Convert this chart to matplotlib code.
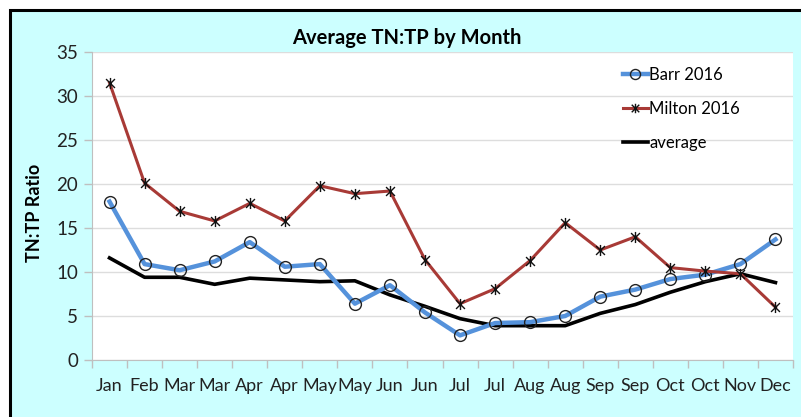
import matplotlib
matplotlib.use("Agg")
import matplotlib.pyplot as plt
from matplotlib.path import Path
from matplotlib.patches import Rectangle
import numpy as np

months = ["Jan", "Feb", "Mar", "Mar", "Apr", "Apr", "May", "May", "Jun", "Jun",
          "Jul", "Jul", "Aug", "Aug", "Sep", "Sep", "Oct", "Oct", "Nov", "Dec"]
barr_2016 = [18.0, 10.9, 10.2, 11.2, 13.4, 10.6, 10.9, 6.4, 8.5, 5.4,
             2.8, 4.2, 4.3, 5.0, 7.2, 8.0, 9.2, 9.7, 10.9, 13.7]
milton_2016 = [31.5, 20.1, 16.9, 15.8, 17.8, 15.8, 19.8, 18.9, 19.2, 11.4,
               6.4, 8.1, 11.3, 15.6, 12.5, 14.0, 10.5, 10.1, 9.8, 6.0]
average = [11.6, 9.4, 9.4, 8.6, 9.3, 9.1, 8.9, 9.0, 7.4, 6.1,
           4.7, 3.9, 3.9, 3.9, 5.3, 6.3, 7.7, 8.9, 9.8, 8.8]
yticks = [0, 5, 10, 15, 20, 25, 30, 35]

W, H = 801, 417
plt.rcParams['font.family'] = ['Lato', 'DejaVu Sans']
fig = plt.figure(figsize=(W / 100, H / 100), dpi=100, facecolor="white")

bg = Rectangle((10 / W, -0.05), 1.1, (H - 10) / H + 0.05, transform=fig.transFigure,
               facecolor="#CCFFFF", edgecolor="black", linewidth=2.2, zorder=-10)
fig.patches.append(bg)

ax = fig.add_axes([92 / W, (H - 360) / H, (793 - 92) / W, (360 - 52) / H], zorder=1)
ax.set_facecolor("white")

x = np.arange(len(months))

star = Path([(-1, -1), (1, 1), (-1, 1), (1, -1), (0, -1.25), (0, 1.25)],
            [Path.MOVETO, Path.LINETO, Path.MOVETO, Path.LINETO, Path.MOVETO, Path.LINETO])

ax.plot(x, barr_2016, color="#5592DB", linewidth=3.2, marker="o", markersize=8.5,
        markerfacecolor="none", markeredgecolor="#222222", markeredgewidth=1.0,
        label="Barr 2016", zorder=3)
ax.plot(x, milton_2016, color="#A83A36", linewidth=2.2, marker=star, markersize=8,
        markeredgecolor="#111111", markeredgewidth=1.0, label="Milton 2016", zorder=4)
ax.plot(x, average, color="black", linewidth=2.6, label="average", zorder=2)

ax.set_xlim(-0.5, len(months) - 0.5)
ax.set_ylim(0, 35)
ax.set_yticks(yticks)
ax.set_xticks(x)
ax.set_xticklabels(months)
ax.set_xticks(np.arange(-0.5, len(months), 1), minor=True)
ax.tick_params(axis="x", which="major", length=0, pad=13, labelsize=13, labelcolor="#222222")
ax.tick_params(axis="x", which="minor", length=6, color="#BFBFBF", width=1, direction="out")
ax.tick_params(axis="y", length=6, color="#BFBFBF", width=1, direction="out", pad=4,
               labelsize=13.5, labelcolor="#222222")
ax.yaxis.grid(True, color="#DDDDDD", linewidth=1)
ax.set_axisbelow(True)
for s in ["top", "right"]:
    ax.spines[s].set_visible(False)
for s in ["left", "bottom"]:
    ax.spines[s].set_color("#BFBFBF")

ax.set_ylabel("TN:TP Ratio", fontsize=13, fontweight="bold")
ax.yaxis.set_label_coords((43 - 92) / (793 - 92), (360 - 213) / 308)
fig.text(407 / W, 1 - 38 / H, "Average TN:TP by Month", ha="center", va="center",
         fontsize=14.5, fontweight="bold")

leg = ax.legend(loc="upper left", bbox_to_anchor=((616 - 92) / (793 - 92), 1 - (60 - 52) / 308),
                frameon=False, fontsize=12, handlelength=1.5, handletextpad=0.1,
                labelspacing=1.08, borderaxespad=0, markerscale=0.85)

fig.savefig("out.png", dpi=100, facecolor=fig.get_facecolor())
